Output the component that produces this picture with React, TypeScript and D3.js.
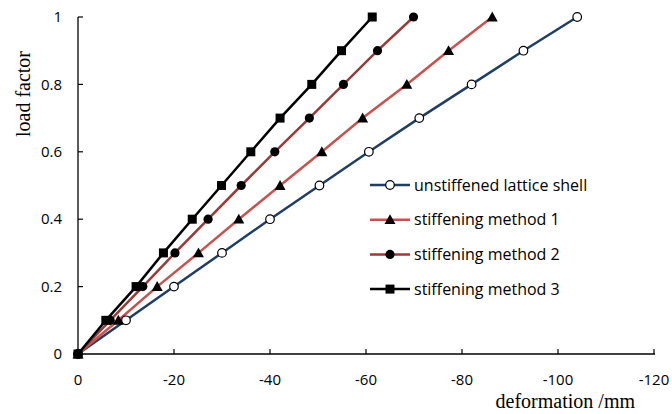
import React from "react";
import * as d3 from "d3";

const loadFactor = [0, 0.1, 0.2, 0.3, 0.4, 0.5, 0.6, 0.7, 0.8, 0.9, 1.0];
const unstiffened = [0, -10, -20, -30, -40, -50.3, -60.6, -71.1, -82, -92.8, -104];
const method1 = [0, -8.4, -16.5, -25.1, -33.5, -42.1, -50.8, -59.3, -68.5, -77.2, -86.3];
const method2 = [0, -6.7, -13.5, -20.2, -27.1, -34, -41, -48.2, -55.3, -62.4, -69.9];
const method3 = [0, -5.8, -12.1, -17.8, -23.8, -29.9, -36, -42.1, -48.7, -54.9, -61.3];
const seriesNames = ["unstiffened lattice shell", "stiffening method 1", "stiffening method 2", "stiffening method 3"];
const seriesColors = ["#1F3E64", "#C9514E", "#9A3A36", "#000000"];
const seriesMarkers = ["openCircle", "triangle", "circle", "square"];
const xTicks = [0, -20, -40, -60, -80, -100, -120];
const yTicks = [0, 0.2, 0.4, 0.6, 0.8, 1];

const W = 672, H = 414;
const x = d3.scaleLinear().domain([0, -120]).range([78, 654]);
const y = d3.scaleLinear().domain([0, 1]).range([354, 17]);

function Marker({ type, cx, cy }: { type: string; cx: number; cy: number }) {
  if (type === "openCircle") return <circle cx={cx} cy={cy} r={4.3} fill="white" stroke="#000" strokeWidth={1.2} />;
  if (type === "circle") return <circle cx={cx} cy={cy} r={4.6} fill="#000" />;
  if (type === "square") return <rect x={cx - 4.5} y={cy - 4.5} width={9} height={9} fill="#000" />;
  const s = 5.5;
  return <path d={`M${cx},${cy - s}L${cx + s},${cy + s * 0.8}L${cx - s},${cy + s * 0.8}Z`} fill="#000" />;
}

export default function App() {
  const all = [unstiffened, method1, method2, method3];
  const line = d3.line<number>().x((d) => x(d)).y((_, i) => y(loadFactor[i]));
  const tickFont = "'Open Sans', sans-serif";
  const serif = "'Liberation Serif', 'Times New Roman', serif";
  return (
    <svg width={W} height={H} style={{ position: "absolute", left: 0, top: 0, background: "white" }}>
      <line x1={x(0)} x2={x(-120) + 1} y1={y(0)} y2={y(0)} stroke="#000" strokeWidth={1.3} />
      <line x1={x(0)} x2={x(0)} y1={y(0)} y2={y(1)} stroke="#000" strokeWidth={1.3} />
      {yTicks.map((t) => (
        <g key={"y" + t}>
          <line x1={x(0)} x2={x(0) + 5} y1={y(t)} y2={y(t)} stroke="#000" strokeWidth={1.2} />
          <text x={62} y={y(t)} dy="0.35em" textAnchor="end" fontFamily={tickFont} fontSize={15} fill="#000">
            {d3.format("")(t)}
          </text>
        </g>
      ))}
      {xTicks.map((t) => (
        <g key={"x" + t}>
          <line x1={x(t)} x2={x(t)} y1={y(0)} y2={y(0) - 5} stroke="#000" strokeWidth={1.2} />
          <text x={x(t)} y={380} dy="0.35em" textAnchor="middle" fontFamily={tickFont} fontSize={15} fill="#000">
            {t === 0 ? "0" : String(t)}
          </text>
        </g>
      ))}
      {all.map((s, k) => (
        <path key={"l" + k} d={line(s) || ""} fill="none" stroke={seriesColors[k]} strokeWidth={2.5} />
      ))}
      {all.map((s, k) => (
        <g key={"m" + k}>
          {s.map((v, i) => (
            <Marker key={i} type={seriesMarkers[k]} cx={x(v)} cy={y(loadFactor[i])} />
          ))}
        </g>
      ))}
      {seriesNames.map((n, k) => {
        const ly = 185 + k * 34.7;
        return (
          <g key={"lg" + k}>
            <line x1={370} x2={410} y1={ly} y2={ly} stroke={seriesColors[k]} strokeWidth={2.5} />
            <Marker type={seriesMarkers[k]} cx={390} cy={ly} />
            <text x={414} y={ly} dy="0.35em" fontFamily={tickFont} fontSize={16} fill="#000">{n}</text>
          </g>
        );
      })}
      <text x={635} y={408} textAnchor="end" fontFamily={serif} fontSize={20} fill="#000">
        deformation /mm
      </text>
      <text transform={`translate(30,94) rotate(-90)`} textAnchor="middle" fontFamily={serif} fontSize={20} fill="#000">
        load factor
      </text>
    </svg>
  );
}
